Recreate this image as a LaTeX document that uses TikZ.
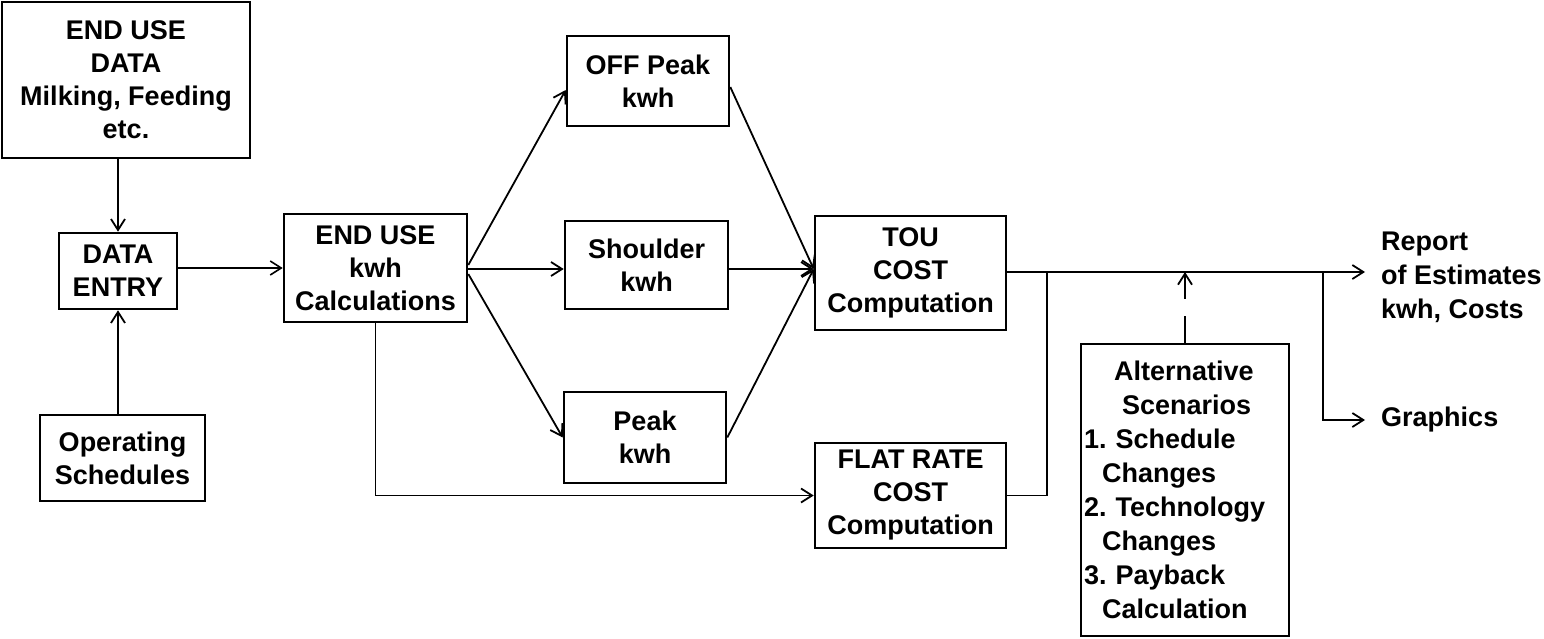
\documentclass[tikz,border=0pt]{standalone}
\usepackage{fontspec}
\setmainfont{Liberation Sans}
\usetikzlibrary{arrows.meta,calc}
\frenchspacing
\begin{document}
\begin{tikzpicture}[x=1pt,y=-1pt,
  box/.style={draw, line width=2.6pt, rectangle, align=center, inner sep=0pt,
    font=\fontsize{27}{33}\selectfont\bfseries},
  conn/.style={line width=1.8pt, -{Straight Barb[length=11pt,width=14pt,line width=1.8pt]}},
  thinconn/.style={line width=1.2pt, -{Straight Barb[length=11pt,width=14pt,line width=1.6pt]}},
  plain/.style={line width=1.8pt},
  lbl/.style={font=\fontsize{27}{34}\selectfont\bfseries, align=left, inner sep=0pt, anchor=west}
]
\useasboundingbox (0,0) rectangle (1544,638);

\node[box, minimum width=248, minimum height=156] (eud) at (126,80) {END USE\\DATA\\Milking, Feeding\\etc.};
\node[box, minimum width=118, minimum height=76] (de) at (118,271) {DATA\\ENTRY};
\node[box, minimum width=165, minimum height=86] (ops) at (122.5,458) {Operating\\Schedules};
\node[box, minimum width=183, minimum height=108] (euk) at (375.5,268) {END USE\\kwh\\Calculations};
\node[box, minimum width=162, minimum height=90] (off) at (648,81) {OFF Peak\\kwh};
\node[box, minimum width=163, minimum height=88] (sh) at (646.5,265) {Shoulder\\kwh};
\node[box, minimum width=162, minimum height=91] (pk) at (645,437.5) {Peak\\kwh};
\node[box, minimum width=191, minimum height=114] (tou) at (910.5,273) {TOU\\COST\\Computation};
\node[box, minimum width=191, minimum height=105] (flat) at (910.5,495.5) {FLAT RATE\\COST\\Computation};
\node[box, minimum width=208, minimum height=292, text width=202, align=left,
  font=\fontsize{27}{34}\selectfont\bfseries] (alt) at (1185,490)
  {\hspace*{30pt}Alternative\\
   \hspace*{38pt}Scenarios\\
   1. Schedule\\
   \hspace*{18pt}Changes\\
   2. Technology\\
   \hspace*{18pt}Changes\\
   3. Payback\\
   \hspace*{18pt}Calculation};

\node[lbl] (rep) at (1381,277) {Report\\of Estimates\\kwh, Costs};
\node[lbl] (gr) at (1381,420) {Graphics};

\draw[conn] (de.north |- eud.south) -- (de.north);
\draw[conn] (de.south |- ops.north) -- (de.south);
\draw[thinconn] (de.east |- euk.west) -- (euk.west);

\draw[conn] ($(euk.east)+(0,-3)$) -- ($(off.west)+(0,9)$);
\draw[conn] ($(euk.east)+(0,1)$) -- ($(sh.west)+(0,4)$);
\draw[conn] ($(euk.east)+(0,6)$) -- (pk.west);
\draw[conn] ($(off.east)+(0,6)$) -- ($(tou.west)+(0,-4)$);
\draw[conn] ($(sh.east)+(0,4)$) -- ($(tou.west)+(0,-4)$);
\draw[conn] (pk.east) -- ($(tou.west)+(0,-4)$);
\draw[conn] (euk.south) |- (flat.west);

\coordinate (j1) at (1047,272);
\coordinate (j2) at (1323,272);
\draw[conn] ($(tou.east)+(0,-1)$) -- ($(rep.west)+(-16,-5)$);
\draw[plain] (flat.east) -| (j1);
\draw[conn] (j2) |- ($(gr.west)+(-16,0)$);
\draw[conn, dash pattern=on 27pt off 17pt] (alt.north) -- (alt.north |- j1);
\end{tikzpicture}
\end{document}
